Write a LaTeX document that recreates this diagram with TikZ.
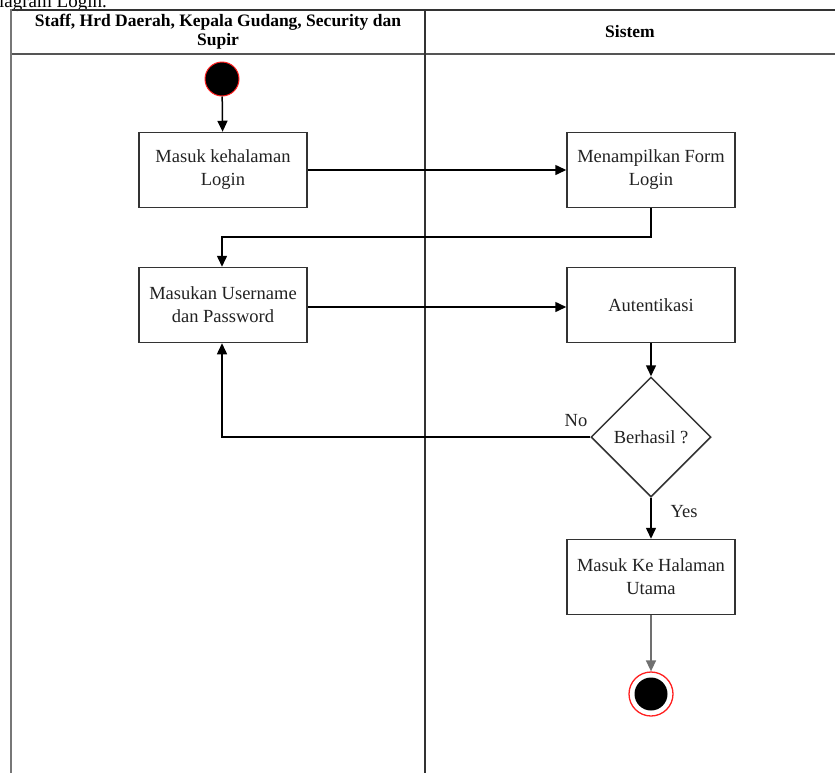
\documentclass[tikz,border=0pt]{standalone}
\usepackage{fontspec}
\setmainfont{Liberation Serif}
\usetikzlibrary{arrows.meta,shapes.geometric}
\definecolor{edge}{HTML}{333333}
\definecolor{lane}{HTML}{555555}
\definecolor{ring}{HTML}{FF2020}
\definecolor{ink}{HTML}{222222}
\begin{document}
\begin{tikzpicture}[x=1pt,y=-1pt,
  act/.style={draw=edge,line width=1.5pt,fill=white,minimum width=168pt,minimum height=75pt,
    align=center,text=ink,font=\fontsize{18.5}{23}\selectfont,inner sep=2pt},
  dec/.style={draw=edge,line width=1.5pt,fill=white,diamond,minimum width=120pt,minimum height=120pt,
    aspect=1,text=ink,font=\fontsize{18.5}{22}\selectfont,inner sep=0pt},
  flow/.style={draw=black,line width=1.5pt,-{Triangle[length=11pt,width=10pt]}},
  lbl/.style={text=ink,font=\fontsize{18.5}{22}\selectfont},
  hdr/.style={font=\bfseries\fontsize{17.5}{19}\selectfont,align=center}]
\useasboundingbox (0,0) rectangle (835,772);
\begin{scope}
  \clip (0,0) rectangle (835,772);
  % caption line, cut at the top edge
  \node[anchor=base west,font=\fontsize{19}{22}\selectfont,inner sep=0pt] (cap) at (-1,7) {iagram Login.};
  % swimlane frame
  \draw[edge,line width=2pt] (11,10) -- (840,10);
  \draw[lane,line width=2pt] (11,54) -- (840,54);
  \draw[lane!80,line width=2.2pt] (11,9) -- (11,780);
  \draw[edge,line width=1.5pt] (425,10) -- (425,780);
\end{scope}
\node[hdr] (h1) at (218,32) {Staff, Hrd Daerah, Kepala Gudang, Security dan\\Supir};
\node[hdr] (h2) at (630,32) {Sistem};

% start and end markers
\node[circle,fill=black,draw=ring,line width=1pt,minimum size=34pt,inner sep=0pt] (start) at (222,79) {};
\node[circle,draw=ring,line width=1.3pt,fill=white,minimum size=44pt,inner sep=0pt] (stop) at (651,694) {};
\node[circle,fill=black,minimum size=33pt,inner sep=0pt] (stopdot) at (651,694) {};

% activities
\node[act] (a1) at (223,170) {Masuk kehalaman\\Login};
\node[act] (a2) at (651,170) {Menampilkan Form\\Login};
\node[act] (a3) at (223,305) {Masukan Username\\dan Password};
\node[act] (a4) at (651,305) {Autentikasi};
\node[dec] (d1) at (651,437) {Berhasil ?};
\node[act] (a5) at (651,577) {Masuk Ke Halaman\\Utama};

% flows
\draw[flow] (start) -- (a1);
\draw[flow] (a1) -- (a2);
\draw[flow] (a2.south) |- (222,237) -- (a3.north -| 222,0);
\draw[flow] (a3.east |- 0,307) -- (a4.west |- 0,307);
\draw[flow] (a4) -- (d1);
\draw[flow] (d1.west) -| (a3.south -| 222,0);
\draw[flow] (d1) -- (a5);
\draw[flow,draw=edge!70] (a5) -- (stop);

\node[lbl] (no) at (576,421) {No};
\node[lbl] (yes) at (684,512) {Yes};
\end{tikzpicture}
\end{document}
